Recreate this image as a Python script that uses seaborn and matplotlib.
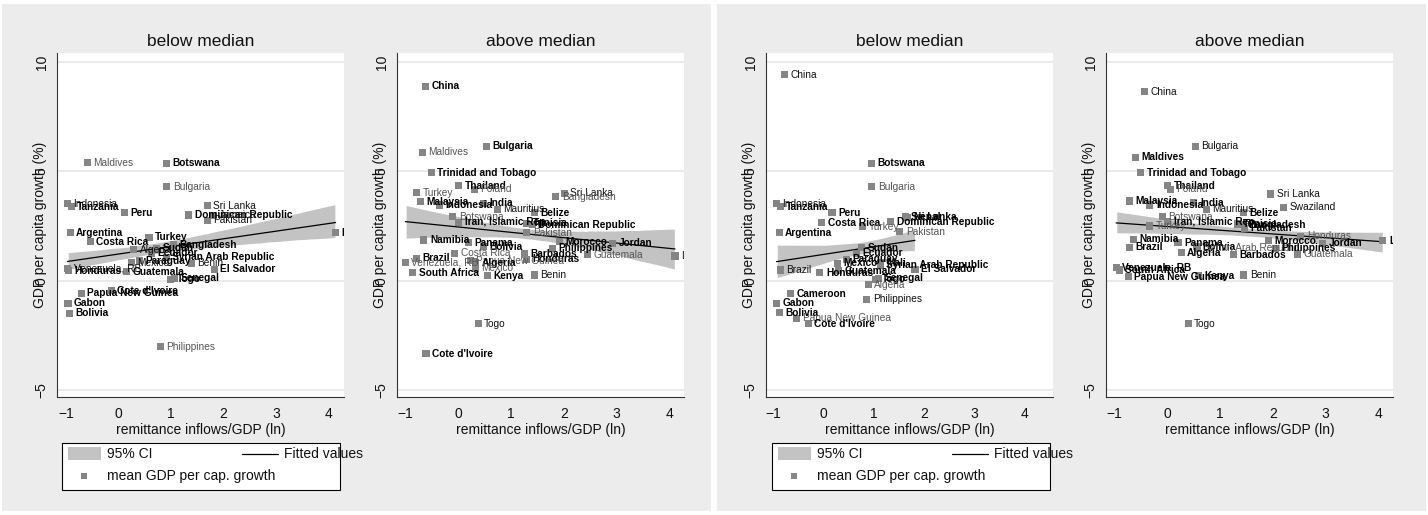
import numpy as np
import pandas as pd
import matplotlib
matplotlib.use("Agg")
import matplotlib.pyplot as plt
import matplotlib.transforms as mtransforms
from matplotlib.patches import Rectangle
from matplotlib.lines import Line2D
import seaborn as sns

# ---------------------------------------------------------------------------
# Country means: remittance inflows/GDP (ln) vs. mean GDP per capita growth (%)
# n = number of period observations behind each country mean
# ---------------------------------------------------------------------------

# Left graph, "below median"
a_lo_country = ["Maldives", "Botswana", "Bulgaria", "Indonesia", "Tanzania", "Peru",
                "Sri Lanka", "Dominican Republic", "Jamaica", "Pakistan", "Argentina",
                "Lesotho", "Turkey", "Costa Rica", "Algeria", "Sudan", "Bangladesh",
                "Ecuador", "Syrian Arab Republic", "Paraguay", "Mexico", "Benin",
                "El Salvador", "Venezuela, RB", "Honduras", "Guatemala", "Togo",
                "Senegal", "Papua New Guinea", "Cote d'Ivoire", "Gabon", "Bolivia",
                "Philippines"]
a_lo_x = [-0.59, 0.92, 0.92, -0.97, -0.90, 0.11, 1.69, 1.34, 1.80, 1.69, -0.92,
          4.13, 0.58, -0.54, 0.29, 0.72, 1.04, 0.62, 0.91, 0.40, 0.24, 1.39,
          1.82, -0.97, -0.95, 0.15, 0.99, 1.07, -0.71, -0.14, -0.96, -0.94, 0.80]
a_lo_y = [5.40, 5.37, 4.31, 3.52, 3.39, 3.12, 3.44, 3.01, 3.00, 2.77, 2.21,
          2.21, 2.00, 1.80, 1.42, 1.49, 1.64, 1.26, 1.08, 0.93, 0.84, 0.81,
          0.53, 0.58, 0.47, 0.43, 0.08, 0.12, -0.56, -0.44, -1.02, -1.47, -3.00]
a_lo_n = [1, 5, 1, 2, 5, 5, 2, 5, 2, 2, 5, 5, 5, 5, 2, 5, 5, 5, 5, 5, 2, 2,
          5, 2, 5, 5, 5, 5, 5, 5, 5, 5, 1]

# Left graph, "above median"
a_hi_country = ["China", "Bulgaria", "Maldives", "Trinidad and Tobago", "Thailand",
                "Poland", "Turkey", "Sri Lanka", "Bangladesh", "Malaysia", "Indonesia",
                "India", "Mauritius", "Belize", "Botswana", "Iran, Islamic Rep.",
                "Tunisia", "Dominican Republic", "Pakistan", "Namibia", "Panama",
                "Bolivia", "Morocco", "Jordan", "Philippines", "Guatemala", "Lesotho",
                "Costa Rica", "Barbados", "Honduras", "Brazil", "Venezuela, RB",
                "Papua New Guinea", "Algeria", "Mexico", "South Africa", "Kenya",
                "Benin", "Togo", "Cote d'Ivoire"]
a_hi_x = [-0.62, 0.53, -0.68, -0.51, 0.01, 0.31, -0.79, 2.01, 1.85, -0.72, -0.35,
          0.48, 0.74, 1.44, -0.10, 0.01, 1.30, 1.40, 1.30, -0.65, 0.20, 0.48,
          1.92, 2.93, 1.78, 2.45, 4.11, -0.07, 1.25, 1.29, -0.79, -1.00, 0.23,
          0.33, 0.33, -0.86, 0.55, 1.44, 0.38, -0.61]
a_hi_y = [8.90, 6.16, 5.87, 4.95, 4.34, 4.19, 4.03, 4.00, 3.85, 3.62, 3.47,
          3.55, 3.27, 3.12, 2.94, 2.69, 2.63, 2.56, 2.21, 1.87, 1.75, 1.57,
          1.80, 1.72, 1.49, 1.19, 1.14, 1.26, 1.23, 0.99, 1.04, 0.84, 0.93,
          0.84, 0.58, 0.38, 0.23, 0.27, -1.96, -3.33]
a_hi_n = [5, 5, 1, 5, 5, 1, 1, 2, 1, 5, 5, 5, 2, 5, 1, 5, 5, 5, 1, 5, 5, 5,
          5, 5, 5, 1, 2, 1, 5, 5, 5, 1, 1, 5, 1, 5, 5, 2, 2, 5]

# Right graph, "below median"
b_lo_country = ["China", "Botswana", "Bulgaria", "Indonesia", "Tanzania", "Peru",
                "Costa Rica", "Dominican Republic", "Sri Lanka", "Nepal", "Turkey",
                "Pakistan", "Argentina", "Sudan", "Ecuador", "Paraguay", "Mexico",
                "Mali", "Syrian Arab Republic", "El Salvador", "Brazil", "Honduras",
                "Guatemala", "Togo", "Senegal", "Algeria", "Cameroon", "Philippines",
                "Gabon", "Bolivia", "Papua New Guinea", "Cote d'Ivoire"]
b_lo_x = [-0.78, 0.96, 0.96, -0.93, -0.86, 0.17, -0.03, 1.34, 1.63, 1.66, 0.78,
          1.52, -0.88, 0.76, 0.66, 0.45, 0.28, 1.13, 1.13, 1.82, -0.86, -0.07,
          0.30, 1.04, 1.09, 0.89, -0.66, 0.86, -0.93, -0.88, -0.53, -0.30]
b_lo_y = [9.41, 5.37, 4.31, 3.52, 3.39, 3.12, 2.66, 2.71, 2.94, 2.90, 2.48,
          2.25, 2.21, 1.52, 1.26, 0.99, 0.81, 0.84, 0.73, 0.53, 0.50, 0.38,
          0.47, 0.08, 0.12, -0.18, -0.59, -0.84, -1.02, -1.45, -1.70, -1.96]
b_lo_n = [2, 5, 1, 2, 5, 5, 5, 5, 5, 5, 1, 1, 5, 5, 5, 5, 5, 5, 5, 5, 2, 5,
          5, 5, 5, 1, 5, 2, 5, 5, 1, 5]

# Right graph, "above median"
b_hi_country = ["China", "Bulgaria", "Maldives", "Trinidad and Tobago", "Thailand",
                "Poland", "Sri Lanka", "Swaziland", "Malaysia", "Indonesia", "India",
                "Mauritius", "Belize", "Botswana", "Iran, Islamic Rep.", "Turkey",
                "Tunisia", "Bangladesh", "Pakistan", "Honduras", "Lesotho", "Namibia",
                "Brazil", "Panama", "Bolivia", "Syrian Arab Republic", "Algeria",
                "Morocco", "Philippines", "Jordan", "Guatemala", "Barbados",
                "Venezuela, RB", "South Africa", "Papua New Guinea", "Kenya",
                "Benin", "Togo"]
b_hi_x = [-0.42, 0.54, -0.60, -0.49, 0.02, 0.07, 1.96, 2.20, -0.71, -0.32, 0.51,
          0.75, 1.45, -0.09, 0.02, -0.32, 1.33, 1.42, 1.46, 2.53, 4.08, -0.63,
          -0.71, 0.21, 0.56, 0.58, 0.27, 1.92, 2.05, 2.94, 2.46, 1.26, -0.96,
          -0.90, -0.73, 0.60, 1.45, 0.40]
b_hi_y = [8.64, 6.16, 5.65, 4.95, 4.34, 4.19, 3.97, 3.36, 3.65, 3.47, 3.58,
          3.27, 3.12, 2.94, 2.71, 2.51, 2.60, 2.56, 2.41, 2.05, 1.84, 1.90,
          1.54, 1.75, 1.57, 1.49, 1.29, 1.84, 1.49, 1.72, 1.23, 1.19, 0.63,
          0.50, 0.20, 0.23, 0.27, -1.96]
b_hi_n = [2, 2, 5, 5, 5, 1, 2, 2, 5, 5, 5, 2, 5, 1, 5, 1, 5, 5, 5, 1, 5, 5,
          5, 5, 5, 1, 5, 5, 5, 5, 1, 5, 5, 5, 5, 5, 2, 2]

panel_titles = ["below median", "above median"]
x_ticks = [-1, 0, 1, 2, 3, 4]
y_ticks = [-5, 0, 5, 10]
x_title = "remittance inflows/GDP (ln)"
y_title = "GDP per capita growth (%)"
legend_labels = ["95% CI", "Fitted values", "mean GDP per cap. growth"]

# ---------------------------------------------------------------------------
sns.set_theme(style="white")
plt.rcParams['font.family'] = ['Liberation Sans', 'DejaVu Sans']
NARROW = ['Liberation Sans Narrow', 'Liberation Sans', 'DejaVu Sans']

W, H = 1428, 515
fig = plt.figure(figsize=(W / 100, H / 100), dpi=100)
fig.patch.set_facecolor('white')

BG = '#ececec'
BAND = '#c3c3c3'
MARK = '#858585'


def fx(px):
    return px / W


def fy(py):
    return 1 - py / H


def px_axes(x0, y0, x1, y1):
    return fig.add_axes([fx(x0), fy(y1), (x1 - x0) / W, (y1 - y0) / H])


# graph backgrounds
for gx0, gx1 in [(2, 711), (717, 1426)]:
    fig.add_artist(Rectangle((fx(gx0), fy(511)), (gx1 - gx0) / W, 507 / H,
                             transform=fig.transFigure, facecolor=BG,
                             edgecolor='none', zorder=0))

label_shift = mtransforms.ScaledTranslation(6 / 100, 0, fig.dpi_scale_trans)


def draw_panel(ax, countries, xs, ys, ns, xlim, title):
    df = pd.DataFrame({'country': countries, 'x': xs, 'y': ys, 'n': ns})
    obs = df.loc[df.index.repeat(df['n'])].reset_index(drop=True)

    ax.set_facecolor('white')
    for yv in y_ticks:
        ax.axhline(yv, color='#e6e6e6', lw=1.2, zorder=0)

    # linear fit with 95% confidence band
    sns.regplot(data=obs, x='x', y='y', ax=ax, scatter=False, ci=95,
                n_boot=1000, seed=3, truncate=True, color='black',
                line_kws=dict(lw=0.9, zorder=2))
    band = ax.collections[-1]
    band.set_facecolor(BAND)
    band.set_alpha(1)
    band.set_zorder(1)

    sns.scatterplot(data=df, x='x', y='y', marker='s', s=26, color=MARK,
                    edgecolor='none', linewidth=0, ax=ax, zorder=3, legend=False)

    tr = ax.transData + label_shift
    for c, x, y, n in zip(countries, xs, ys, ns):
        if n >= 3:
            col, wt = 'black', 'bold'
        elif n == 2:
            col, wt = '#111111', 'normal'
        else:
            col, wt = '#555555', 'normal'
        ax.text(x, y, c, transform=tr, fontsize=7.3, ha='left', va='center',
                color=col, fontweight=wt, clip_on=True, zorder=4)

    ax.set_xlim(*xlim)
    ax.set_ylim(-5.30, 10.41)
    ax.set_xticks(x_ticks)
    ax.set_yticks(y_ticks)
    ax.set_xticklabels([f"{t:g}".replace('-', '\u2212') for t in x_ticks],
                       fontfamily=NARROW, fontsize=10)
    ax.set_yticklabels([f"{t:g}".replace('-', '\u2212') for t in y_ticks],
                       fontfamily=NARROW, fontsize=10, rotation=90, va='center')
    ax.tick_params(axis='both', direction='out', length=5, width=0.8,
                   color='#333333', pad=1, labelcolor='#111111')
    ax.tick_params(axis='x', pad=2)
    for s in ['top', 'right']:
        ax.spines[s].set_visible(False)
    for s in ['left', 'bottom']:
        ax.spines[s].set_color('#333333')
        ax.spines[s].set_linewidth(0.8)
    ax.set_xlabel(x_title, fontfamily=NARROW, fontsize=10, color='#111111')
    ax.xaxis.set_label_coords(0.5, -0.095)
    ax.xaxis.label.set_va('center')
    ax.set_ylabel(y_title, fontfamily=NARROW, fontsize=10, color='#111111')
    ax.yaxis.set_label_coords(-0.06, 0.5)
    ax.yaxis.label.set_va('center')
    ax.set_title(title, fontsize=12.5, color='#111111', pad=5)
    ax.grid(False)


def draw_legend(x0):
    # framed key below the first panel of each graph
    fig.add_artist(Rectangle((fx(x0), fy(490)), 278 / W, 47 / H,
                             transform=fig.transFigure, facecolor='white',
                             edgecolor='black', lw=0.8, zorder=1))
    fig.add_artist(Rectangle((fx(x0 + 6), fy(460)), 33 / W, 13 / H,
                             transform=fig.transFigure, facecolor=BAND,
                             edgecolor='none', zorder=2))
    fig.text(fx(x0 + 45), fy(454), legend_labels[0], fontfamily=NARROW,
             fontsize=10, va='center', ha='left', color='#111111', zorder=3)
    fig.add_artist(Line2D([fx(x0 + 180), fx(x0 + 216)], [fy(454), fy(454)],
                          transform=fig.transFigure, color='black', lw=0.9,
                          zorder=3))
    fig.text(fx(x0 + 222), fy(454), legend_labels[1], fontfamily=NARROW,
             fontsize=10, va='center', ha='left', color='#111111', zorder=3)
    fig.add_artist(Line2D([fx(x0 + 22)], [fy(476)], transform=fig.transFigure,
                          marker='s', markersize=4.8, color=MARK, lw=0,
                          markeredgewidth=0, zorder=3))
    fig.text(fx(x0 + 45), fy(476), legend_labels[2], fontfamily=NARROW,
             fontsize=10, va='center', ha='left', color='#111111', zorder=3)


ax1 = px_axes(57, 53, 344, 397)
draw_panel(ax1, a_lo_country, a_lo_x, a_lo_y, a_lo_n, (-1.17, 4.29), panel_titles[0])
ax2 = px_axes(397, 53, 684, 397)
draw_panel(ax2, a_hi_country, a_hi_x, a_hi_y, a_hi_n, (-1.16, 4.28), panel_titles[1])
ax3 = px_axes(766, 53, 1053, 397)
draw_panel(ax3, b_lo_country, b_lo_x, b_lo_y, b_lo_n, (-1.14, 4.56), panel_titles[0])
ax4 = px_axes(1106, 53, 1393, 397)
draw_panel(ax4, b_hi_country, b_hi_x, b_hi_y, b_hi_n, (-1.15, 4.27), panel_titles[1])

draw_legend(62)
draw_legend(772)

fig.savefig("out.png", dpi=100, facecolor=fig.get_facecolor())
